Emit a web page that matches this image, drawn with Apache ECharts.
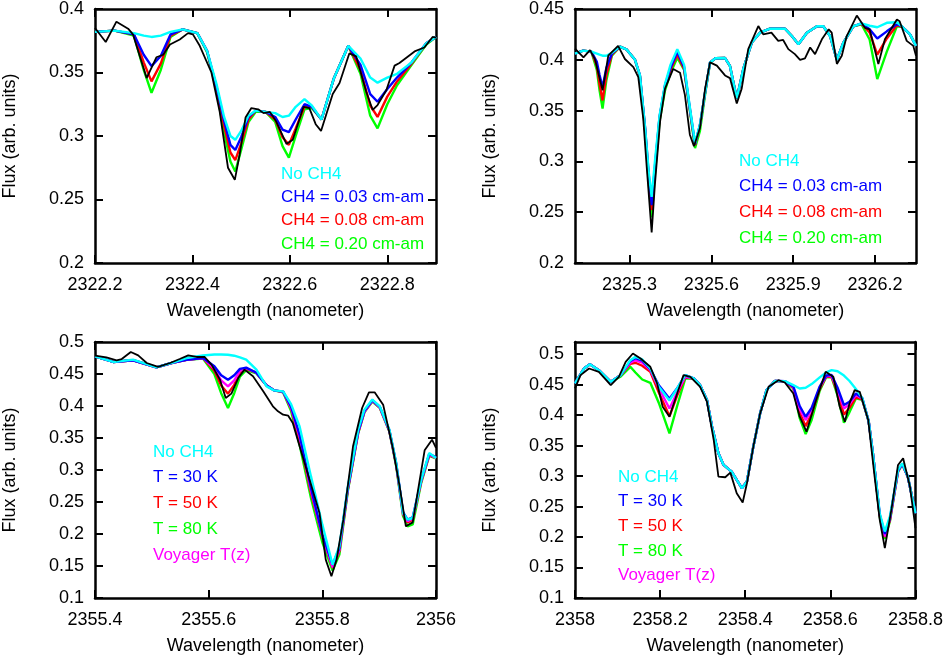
<!DOCTYPE html>
<html>
<head>
<meta charset="utf-8">
<title>CH4 model spectra</title>
<script src="https://cdn.jsdelivr.net/npm/echarts@6.0.0/dist/echarts.min.js"></script>
<style>
  html, body { margin: 0; padding: 0; background: #fff; }
  #chart { width: 946px; height: 656px; }
</style>
</head>
<body>
<div id="chart"></div>
<script>
// ---- panel 1 : 2322.2 - 2322.9 nm ----
var wl1 = [2322.2, 2322.24, 2322.28, 2322.30, 2322.316, 2322.335, 2322.355, 2322.38, 2322.41, 2322.43,
  2322.45, 2322.465, 2322.478, 2322.488, 2322.50, 2322.515, 2322.53, 2322.55, 2322.57, 2322.585,
  2322.598, 2322.612, 2322.63, 2322.645, 2322.665, 2322.69, 2322.72, 2322.745, 2322.765, 2322.78,
  2322.80, 2322.82, 2322.85, 2322.88, 2322.9];
var noCh4_1 = [0.382, 0.383, 0.381, 0.379, 0.378, 0.379, 0.382, 0.384, 0.381, 0.367,
  0.340, 0.315, 0.300, 0.297, 0.304, 0.316, 0.320, 0.319, 0.318, 0.315,
  0.316, 0.323, 0.329, 0.324, 0.313, 0.345, 0.371, 0.361, 0.346, 0.342,
  0.346, 0.349, 0.358, 0.373, 0.378];
var ch4a_1 = [0.382, 0.383, 0.380, 0.364, 0.355, 0.363, 0.380, 0.384, 0.381, 0.367,
  0.338, 0.312, 0.293, 0.289, 0.299, 0.315, 0.320, 0.319, 0.315, 0.305,
  0.303, 0.313, 0.325, 0.323, 0.313, 0.345, 0.371, 0.356, 0.333, 0.327,
  0.337, 0.346, 0.358, 0.373, 0.378];
var ch4b_1 = [0.382, 0.383, 0.380, 0.358, 0.343, 0.357, 0.379, 0.384, 0.381, 0.367,
  0.337, 0.308, 0.287, 0.281, 0.294, 0.313, 0.320, 0.319, 0.313, 0.299,
  0.293, 0.306, 0.323, 0.323, 0.313, 0.345, 0.371, 0.352, 0.324, 0.315,
  0.331, 0.343, 0.357, 0.373, 0.378];
var ch4c_1 = [0.382, 0.383, 0.379, 0.352, 0.334, 0.352, 0.378, 0.384, 0.381, 0.366,
  0.335, 0.303, 0.280, 0.272, 0.289, 0.311, 0.319, 0.319, 0.311, 0.292,
  0.283, 0.300, 0.321, 0.322, 0.313, 0.345, 0.371, 0.349, 0.316, 0.306,
  0.325, 0.340, 0.356, 0.372, 0.378];
var obsWl1 = [2322.2, 2322.222, 2322.244, 2322.268, 2322.278, 2322.306, 2322.326, 2322.34, 2322.354, 2322.374,
  2322.391, 2322.401, 2322.415, 2322.439, 2322.456, 2322.473, 2322.487, 2322.497, 2322.509, 2322.521,
  2322.535, 2322.546, 2322.559, 2322.572, 2322.593, 2322.606, 2322.628, 2322.64, 2322.653, 2322.664,
  2322.688, 2322.702, 2322.722, 2322.736, 2322.757, 2322.77, 2322.78, 2322.798, 2322.815, 2322.825,
  2322.856, 2322.876, 2322.893, 2322.9];
var obs1 = [0.385, 0.374, 0.390, 0.3845, 0.380, 0.3456, 0.362, 0.364, 0.372, 0.376,
  0.381, 0.380, 0.371, 0.350, 0.319, 0.275, 0.2655, 0.2855, 0.3145, 0.322,
  0.321, 0.318, 0.319, 0.3114, 0.2938, 0.297, 0.323, 0.322, 0.3093, 0.304,
  0.333, 0.3417, 0.365, 0.3627, 0.3347, 0.3205, 0.3244, 0.336, 0.3554, 0.3575,
  0.3666, 0.3697, 0.378, 0.3775];

// ---- panel 2 : 2325.1 - 2326.35 nm ----
var wl2 = [2325.1, 2325.13, 2325.16, 2325.18, 2325.19, 2325.201, 2325.215, 2325.235, 2325.265, 2325.29,
  2325.32, 2325.338, 2325.357, 2325.37, 2325.381, 2325.393, 2325.41, 2325.43, 2325.45, 2325.475,
  2325.50, 2325.52, 2325.54, 2325.558, 2325.577, 2325.595, 2325.615, 2325.65, 2325.668, 2325.693,
  2325.717, 2325.748, 2325.778, 2325.815, 2325.87, 2325.895, 2325.919, 2325.95, 2325.987, 2326.01,
  2326.035, 2326.06, 2326.084, 2326.12, 2326.15, 2326.18, 2326.208, 2326.243, 2326.28, 2326.30,
  2326.328, 2326.35];
var noCh4_2 = [0.406, 0.409, 0.408, 0.406, 0.405, 0.404, 0.404, 0.407, 0.413, 0.410,
  0.400, 0.385, 0.333, 0.290, 0.265, 0.300, 0.345, 0.376, 0.395, 0.4105,
  0.395, 0.355, 0.318, 0.336, 0.368, 0.3975, 0.4015, 0.4017, 0.394, 0.362,
  0.391, 0.417, 0.4267, 0.4306, 0.4306, 0.4234, 0.4153, 0.4267, 0.433, 0.433,
  0.4234, 0.400, 0.417, 0.433, 0.4358, 0.4335, 0.432, 0.4364, 0.437, 0.4325,
  0.425, 0.4137];
var ch4a_2 = [0.406, 0.409, 0.408, 0.398, 0.385, 0.373, 0.392, 0.406, 0.413, 0.410,
  0.400, 0.385, 0.333, 0.288, 0.257, 0.295, 0.344, 0.375, 0.392, 0.408,
  0.393, 0.354, 0.317, 0.336, 0.368, 0.3975, 0.4015, 0.4017, 0.394, 0.362,
  0.391, 0.417, 0.4267, 0.4306, 0.4306, 0.4234, 0.4153, 0.4267, 0.433, 0.433,
  0.4234, 0.400, 0.417, 0.433, 0.4358, 0.430, 0.421, 0.428, 0.435, 0.4325,
  0.425, 0.4137];
var ch4b_2 = [0.406, 0.409, 0.408, 0.394, 0.376, 0.360, 0.385, 0.405, 0.413, 0.410,
  0.400, 0.384, 0.332, 0.285, 0.252, 0.292, 0.343, 0.374, 0.390, 0.405,
  0.391, 0.353, 0.316, 0.335, 0.368, 0.3975, 0.4015, 0.4017, 0.394, 0.362,
  0.391, 0.417, 0.4267, 0.4306, 0.4306, 0.4234, 0.4153, 0.4267, 0.433, 0.433,
  0.4234, 0.400, 0.417, 0.433, 0.4355, 0.427, 0.405, 0.421, 0.434, 0.4325,
  0.425, 0.4137];
var ch4c_2 = [0.406, 0.409, 0.408, 0.390, 0.370, 0.352, 0.380, 0.404, 0.413, 0.410,
  0.400, 0.384, 0.330, 0.280, 0.245, 0.288, 0.340, 0.370, 0.387, 0.402,
  0.390, 0.352, 0.313, 0.330, 0.366, 0.397, 0.4015, 0.4017, 0.394, 0.362,
  0.391, 0.417, 0.4267, 0.4306, 0.4306, 0.4234, 0.4153, 0.4267, 0.433, 0.433,
  0.4234, 0.400, 0.417, 0.433, 0.435, 0.420, 0.381, 0.408, 0.433, 0.4325,
  0.425, 0.4137];
var obsWl2 = [2325.1, 2325.131, 2325.155, 2325.173, 2325.201, 2325.222, 2325.258, 2325.283, 2325.314, 2325.332,
  2325.35, 2325.363, 2325.381, 2325.393, 2325.412, 2325.43, 2325.46, 2325.485, 2325.503, 2325.521,
  2325.536, 2325.558, 2325.577, 2325.595, 2325.62, 2325.65, 2325.668, 2325.693, 2325.711, 2325.735,
  2325.772, 2325.79, 2325.82, 2325.845, 2325.863, 2325.882, 2325.906, 2325.925, 2325.943, 2325.962,
  2325.98, 2326.005, 2326.03, 2326.041, 2326.06, 2326.078, 2326.096, 2326.133, 2326.163, 2326.18,
  2326.212, 2326.236, 2326.28, 2326.29, 2326.316, 2326.34, 2326.35];
var obs2 = [0.4111, 0.4024, 0.4095, 0.4008, 0.370, 0.404, 0.4137, 0.4008, 0.3927, 0.383,
  0.3425, 0.294, 0.230, 0.2777, 0.3393, 0.3716, 0.391, 0.3872, 0.3652, 0.3263,
  0.315, 0.3328, 0.3716, 0.3975, 0.3943, 0.3846, 0.382, 0.357, 0.3716, 0.4105,
  0.4332, 0.425, 0.4267, 0.4186, 0.4195, 0.4105, 0.4056, 0.400, 0.4014, 0.4121,
  0.4056, 0.4202, 0.430, 0.4267, 0.3959, 0.404, 0.4234, 0.4435, 0.4315, 0.430,
  0.3959, 0.4202, 0.4396, 0.438, 0.4186, 0.4137, 0.404];

// ---- panel 3 : 2355.4 - 2356 nm ----
var wl3 = [2355.4, 2355.432, 2355.467, 2355.508, 2355.538, 2355.561, 2355.59, 2355.61, 2355.622, 2355.634,
  2355.645, 2355.655, 2355.666, 2355.684, 2355.702, 2355.715, 2355.731, 2355.745, 2355.76, 2355.78,
  2355.80, 2355.818, 2355.83, 2355.845, 2355.863, 2355.874, 2355.888, 2355.901, 2355.918, 2355.93,
  2355.942, 2355.95, 2355.959, 2355.974, 2355.988, 2356];
var noCh4_3 = [0.4776, 0.4688, 0.4724, 0.4604, 0.4682, 0.475, 0.479, 0.4805, 0.4805, 0.480,
  0.4786, 0.476, 0.4724, 0.4568, 0.4307, 0.4245, 0.4229, 0.403, 0.368, 0.290,
  0.2146, 0.152, 0.181, 0.2745, 0.363, 0.3943, 0.410, 0.3995, 0.363, 0.311,
  0.2328, 0.2224, 0.225, 0.2849, 0.3266, 0.3188];
var t30_3 = [0.4776, 0.4688, 0.4715, 0.4604, 0.468, 0.472, 0.475, 0.462, 0.448, 0.441,
  0.448, 0.458, 0.460, 0.452, 0.432, 0.4245, 0.4225, 0.399, 0.355, 0.272,
  0.199, 0.152, 0.178, 0.272, 0.360, 0.392, 0.409, 0.399, 0.362, 0.310,
  0.234, 0.2224, 0.226, 0.284, 0.325, 0.320];
var t50_3 = [0.4776, 0.4688, 0.4715, 0.4604, 0.468, 0.472, 0.475, 0.455, 0.432, 0.4193,
  0.433, 0.452, 0.458, 0.452, 0.432, 0.4245, 0.422, 0.396, 0.3474, 0.264,
  0.196, 0.147, 0.173, 0.270, 0.358, 0.391, 0.408, 0.398, 0.361, 0.308,
  0.231, 0.218, 0.222, 0.282, 0.323, 0.319];
var t80_3 = [0.4776, 0.4688, 0.4715, 0.4604, 0.468, 0.472, 0.474, 0.450, 0.420, 0.3969,
  0.420, 0.446, 0.456, 0.451, 0.432, 0.4245, 0.4215, 0.392, 0.3396, 0.2563,
  0.187, 0.143, 0.168, 0.268, 0.357, 0.390, 0.407, 0.397, 0.360, 0.306,
  0.228, 0.212, 0.215, 0.280, 0.322, 0.318];
var voyager_3 = [0.4776, 0.4688, 0.4715, 0.4604, 0.468, 0.472, 0.475, 0.458, 0.440, 0.4307,
  0.440, 0.455, 0.459, 0.452, 0.432, 0.4245, 0.4222, 0.397, 0.3516, 0.268,
  0.197, 0.148, 0.175, 0.271, 0.359, 0.391, 0.408, 0.398, 0.361, 0.309,
  0.232, 0.220, 0.224, 0.283, 0.324, 0.319];
var obsWl3 = [2355.4, 2355.42, 2355.438, 2355.447, 2355.463, 2355.476, 2355.491, 2355.511, 2355.532, 2355.549,
  2355.564, 2355.579, 2355.593, 2355.605, 2355.62, 2355.63, 2355.64, 2355.652, 2355.663, 2355.678,
  2355.696, 2355.713, 2355.722, 2355.731, 2355.74, 2355.748, 2355.76, 2355.781, 2355.795, 2355.806,
  2355.816, 2355.825, 2355.837, 2355.854, 2355.87, 2355.882, 2355.892, 2355.907, 2355.924, 2355.936,
  2355.947, 2355.959, 2355.98, 2355.993, 2356];
var obs3 = [0.4786, 0.476, 0.4714, 0.4734, 0.4844, 0.479, 0.4672, 0.461, 0.4672, 0.4734,
  0.479, 0.4766, 0.4766, 0.4646, 0.4411, 0.4125, 0.4193, 0.4437, 0.4568, 0.4464,
  0.4229, 0.3995, 0.3917, 0.3865, 0.3849, 0.3734, 0.337, 0.2745, 0.2328, 0.1599,
  0.1339, 0.1599, 0.2224, 0.337, 0.3969, 0.4214, 0.4214, 0.4021, 0.3344, 0.2745,
  0.212, 0.2182, 0.3307, 0.3474, 0.3344];

// ---- panel 4 : 2358 - 2358.8 nm ----
var wl4 = [2358.0, 2358.021, 2358.035, 2358.056, 2358.084, 2358.107, 2358.13, 2358.142, 2358.158, 2358.177,
  2358.197, 2358.222, 2358.24, 2358.259, 2358.279, 2358.294, 2358.31, 2358.322, 2358.337, 2358.349,
  2358.368, 2358.38, 2358.392, 2358.404, 2358.419, 2358.435, 2358.45, 2358.47, 2358.493, 2358.513,
  2358.528, 2358.542, 2358.556, 2358.575, 2358.59, 2358.603, 2358.617, 2358.632, 2358.645, 2358.66,
  2358.675, 2358.69, 2358.7, 2358.716, 2358.728, 2358.74, 2358.759, 2358.769, 2358.782, 2358.8];
var noCh4_4 = [0.452, 0.4765, 0.4836, 0.4738, 0.4547, 0.4656, 0.4902, 0.4956, 0.4913, 0.4765,
  0.4465, 0.424, 0.4438, 0.4656, 0.4602, 0.4492, 0.4247, 0.381, 0.3374, 0.3183,
  0.3074, 0.2937, 0.2801, 0.291, 0.3483, 0.4029, 0.441, 0.4563, 0.4558, 0.4492,
  0.4438, 0.445, 0.451, 0.462, 0.470, 0.4738, 0.472, 0.465, 0.456, 0.443,
  0.428, 0.390, 0.3374, 0.2391, 0.2091, 0.2337, 0.3101, 0.321, 0.2992, 0.2391];
var t30_4 = [0.452, 0.4765, 0.4836, 0.4738, 0.4547, 0.4656, 0.489, 0.4935, 0.4895, 0.4755,
  0.449, 0.427, 0.444, 0.4656, 0.4602, 0.4492, 0.4247, 0.381, 0.3374, 0.3183,
  0.3074, 0.2937, 0.2801, 0.291, 0.3483, 0.4029, 0.441, 0.4563, 0.4558, 0.447,
  0.415, 0.3974, 0.412, 0.447, 0.465, 0.466, 0.445, 0.4165, 0.422, 0.4356,
  0.428, 0.390, 0.3374, 0.237, 0.205, 0.231, 0.309, 0.320, 0.299, 0.239];
var t50_4 = [0.452, 0.4765, 0.4836, 0.4738, 0.4547, 0.4656, 0.484, 0.486, 0.481, 0.471,
  0.437, 0.398, 0.432, 0.462, 0.4602, 0.4492, 0.4247, 0.381, 0.3374, 0.3183,
  0.3074, 0.2937, 0.2801, 0.291, 0.3483, 0.4029, 0.441, 0.4563, 0.4552, 0.445,
  0.404, 0.382, 0.402, 0.443, 0.463, 0.463, 0.437, 0.401, 0.412, 0.429,
  0.426, 0.390, 0.3374, 0.235, 0.200, 0.228, 0.308, 0.320, 0.299, 0.239];
var t80_4 = [0.452, 0.4765, 0.4836, 0.4738, 0.4547, 0.463, 0.4793, 0.470, 0.4585, 0.453,
  0.420, 0.370, 0.415, 0.460, 0.4602, 0.4492, 0.4247, 0.381, 0.3374, 0.3183,
  0.3074, 0.2937, 0.2801, 0.291, 0.3483, 0.4029, 0.441, 0.4563, 0.455, 0.444,
  0.395, 0.369, 0.392, 0.440, 0.462, 0.462, 0.432, 0.3876, 0.405, 0.4274,
  0.425, 0.390, 0.3374, 0.233, 0.197, 0.226, 0.307, 0.319, 0.299, 0.239];
var voyager_4 = [0.452, 0.4765, 0.4836, 0.4738, 0.4547, 0.4656, 0.486, 0.490, 0.486, 0.4738,
  0.444, 0.411, 0.437, 0.463, 0.4602, 0.4492, 0.4247, 0.381, 0.3374, 0.3183,
  0.3074, 0.2937, 0.2801, 0.291, 0.3483, 0.4029, 0.441, 0.4563, 0.4555, 0.446,
  0.410, 0.392, 0.408, 0.445, 0.464, 0.464, 0.441, 0.411, 0.418, 0.433,
  0.427, 0.390, 0.3374, 0.236, 0.201, 0.229, 0.308, 0.320, 0.299, 0.239];
var obsWl4 = [2358.0, 2358.013, 2358.033, 2358.056, 2358.084, 2358.103, 2358.119, 2358.136, 2358.154, 2358.177,
  2358.193, 2358.206, 2358.222, 2358.24, 2358.255, 2358.271, 2358.294, 2358.31, 2358.326, 2358.337,
  2358.353, 2358.365, 2358.38, 2358.394, 2358.404, 2358.419, 2358.435, 2358.455, 2358.478, 2358.493,
  2358.513, 2358.528, 2358.544, 2358.564, 2358.589, 2358.607, 2358.622, 2358.634, 2358.645, 2358.657,
  2358.669, 2358.689, 2358.704, 2358.716, 2358.728, 2358.744, 2358.759, 2358.771, 2358.787, 2358.8];
var obs4 = [0.4438, 0.4656, 0.4765, 0.4711, 0.4492, 0.4629, 0.4874, 0.5011, 0.4929, 0.4793,
  0.452, 0.4138, 0.3974, 0.4356, 0.4656, 0.4629, 0.4465, 0.422, 0.3592, 0.2992,
  0.2981, 0.3057, 0.2719, 0.2566, 0.2883, 0.3483, 0.4029, 0.4465, 0.4574, 0.4536,
  0.4356, 0.3974, 0.3729, 0.4192, 0.4711, 0.4629, 0.4138, 0.3892, 0.4192, 0.4411,
  0.4383, 0.3919, 0.2992, 0.2282, 0.1819, 0.2473, 0.3183, 0.3292, 0.2828, 0.2146];

// tick positions
var xTicks1 = [2322.2, 2322.4, 2322.6, 2322.8];
var yTicks1 = [0.2, 0.25, 0.3, 0.35, 0.4];
var xTicks2 = [2325.3, 2325.6, 2325.9, 2326.2];
var yTicks2 = [0.2, 0.25, 0.3, 0.35, 0.4, 0.45];
var xTicks3 = [2355.4, 2355.6, 2355.8, 2356];
var yTicks3 = [0.1, 0.15, 0.2, 0.25, 0.3, 0.35, 0.4, 0.45, 0.5];
var xTicks4 = [2358, 2358.2, 2358.4, 2358.6, 2358.8];
var yTicks4 = [0.1, 0.15, 0.2, 0.25, 0.3, 0.35, 0.4, 0.45, 0.5];

var ch4Names = ['No CH4', 'CH4 = 0.03 cm-am', 'CH4 = 0.08 cm-am', 'CH4 = 0.20 cm-am'];
var tempNames = ['No CH4', 'T = 30 K', 'T = 50 K', 'T = 80 K', 'Voyager T(z)'];

var CYAN = '#00ffff', BLUE = '#0000ff', RED = '#ff0000', GREEN = '#00ff00', MAGENTA = '#ff00ff';
var FONT = 'Liberation Sans, Arial, sans-serif';

var myChart = echarts.init(document.getElementById('chart'));

function fmt(v) {
  return String(Math.round(v * 1000) / 1000);
}

function line(name, color, xs, ys, g, width) {
  return {
    type: 'line',
    name: name,
    xAxisIndex: g * 2,
    yAxisIndex: g * 2,
    data: xs.map(function (x, i) { return [x, ys[i]]; }),
    symbol: 'none',
    lineStyle: { color: color, width: width },
    itemStyle: { color: color },
    emphasis: { disabled: true },
    silent: true,
    animation: false
  };
}

// bottom axis with labels + top mirror axis with ticks only
function xAxes(g, min, max, ticks) {
  var common = {
    type: 'value', gridIndex: g, min: min, max: max,
    splitLine: { show: false },
    axisLine: { show: true, onZero: false, lineStyle: { color: '#000', width: 2.5 } },
    axisTick: { show: true, inside: true, length: 8, customValues: ticks, lineStyle: { color: '#000', width: 2 } }
  };
  var bottom = Object.assign({}, common, {
    position: 'bottom',
    name: 'Wavelength (nanometer)',
    nameLocation: 'middle',
    nameGap: 39,
    nameTextStyle: { fontFamily: FONT, fontSize: 18, color: '#000' },
    axisLabel: { customValues: ticks, formatter: fmt, margin: 13, fontFamily: FONT, fontSize: 18, color: '#000' }
  });
  var top = Object.assign({}, common, { position: 'top', axisLabel: { show: false } });
  return [bottom, top];
}

function yAxes(g, min, max, ticks) {
  var common = {
    type: 'value', gridIndex: g, min: min, max: max,
    splitLine: { show: false },
    axisLine: { show: true, onZero: false, lineStyle: { color: '#000', width: 2.5 } },
    axisTick: { show: true, inside: true, length: 8, customValues: ticks, lineStyle: { color: '#000', width: 2 } }
  };
  var left = Object.assign({}, common, {
    position: 'left',
    name: 'Flux (arb. units)',
    nameLocation: 'middle',
    nameRotate: 90,
    nameGap: 76,
    nameTextStyle: { fontFamily: FONT, fontSize: 18, color: '#000' },
    axisLabel: { customValues: ticks, formatter: fmt, margin: 11, fontFamily: FONT, fontSize: 18, color: '#000' }
  });
  var right = Object.assign({}, common, { position: 'right', axisLabel: { show: false } });
  return [left, right];
}

function legend(names, colors, left, top, gap) {
  return {
    orient: 'vertical',
    left: left,
    top: top,
    padding: 0,
    itemGap: gap,
    itemWidth: 0,
    itemHeight: 10,
    icon: 'none',
    selectedMode: false,
    textStyle: { fontFamily: FONT, fontSize: 17, lineHeight: 18 },
    data: names.map(function (n, i) {
      return { name: n, textStyle: { color: colors[i] } };
    })
  };
}

var ch4Colors = [CYAN, BLUE, RED, GREEN];
var tempColors = [CYAN, BLUE, RED, GREEN, MAGENTA];

var option = {
  backgroundColor: '#fff',
  animation: false,
  grid: [
    { left: 94, top: 6, width: 342, height: 257 },
    { left: 575, top: 6, width: 341, height: 257 },
    { left: 94, top: 342, width: 342, height: 256 },
    { left: 575, top: 342, width: 341, height: 256 }
  ],
  xAxis: [].concat(
    xAxes(0, 2322.2, 2322.9, xTicks1),
    xAxes(1, 2325.1, 2326.35, xTicks2),
    xAxes(2, 2355.4, 2356, xTicks3),
    xAxes(3, 2358, 2358.8, xTicks4)
  ),
  yAxis: [].concat(
    yAxes(0, 0.2, 0.4, yTicks1),
    yAxes(1, 0.2, 0.45, yTicks2),
    yAxes(2, 0.1, 0.5, yTicks3),
    yAxes(3, 0.1, 0.52, yTicks4)
  ),
  legend: [
    legend(ch4Names, ch4Colors, 276, 165, 5.3),
    legend(ch4Names, ch4Colors, 734, 152, 7.8),
    legend(tempNames, tempColors, 148, 443, 7.8),
    legend(tempNames, tempColors, 613, 468, 6.7)
  ],
  series: [
    line(ch4Names[3], GREEN, wl1, ch4c_1, 0, 2.4),
    line(ch4Names[2], RED, wl1, ch4b_1, 0, 2.4),
    line(ch4Names[1], BLUE, wl1, ch4a_1, 0, 2.4),
    line(ch4Names[0], CYAN, wl1, noCh4_1, 0, 2.4),
    line('Observed', '#000', obsWl1, obs1, 0, 1.8),

    line(ch4Names[3], GREEN, wl2, ch4c_2, 1, 2.4),
    line(ch4Names[2], RED, wl2, ch4b_2, 1, 2.4),
    line(ch4Names[1], BLUE, wl2, ch4a_2, 1, 2.4),
    line(ch4Names[0], CYAN, wl2, noCh4_2, 1, 2.4),
    line('Observed', '#000', obsWl2, obs2, 1, 1.8),

    line(tempNames[3], GREEN, wl3, t80_3, 2, 2.4),
    line(tempNames[2], RED, wl3, t50_3, 2, 2.4),
    line(tempNames[4], MAGENTA, wl3, voyager_3, 2, 2.4),
    line(tempNames[1], BLUE, wl3, t30_3, 2, 2.4),
    line(tempNames[0], CYAN, wl3, noCh4_3, 2, 2.4),
    line('Observed', '#000', obsWl3, obs3, 2, 1.8),

    line(tempNames[3], GREEN, wl4, t80_4, 3, 2.4),
    line(tempNames[2], RED, wl4, t50_4, 3, 2.4),
    line(tempNames[4], MAGENTA, wl4, voyager_4, 3, 2.4),
    line(tempNames[1], BLUE, wl4, t30_4, 3, 2.4),
    line(tempNames[0], CYAN, wl4, noCh4_4, 3, 2.4),
    line('Observed', '#000', obsWl4, obs4, 3, 1.8)
  ]
};

myChart.setOption(option);
</script>
</body>
</html>
